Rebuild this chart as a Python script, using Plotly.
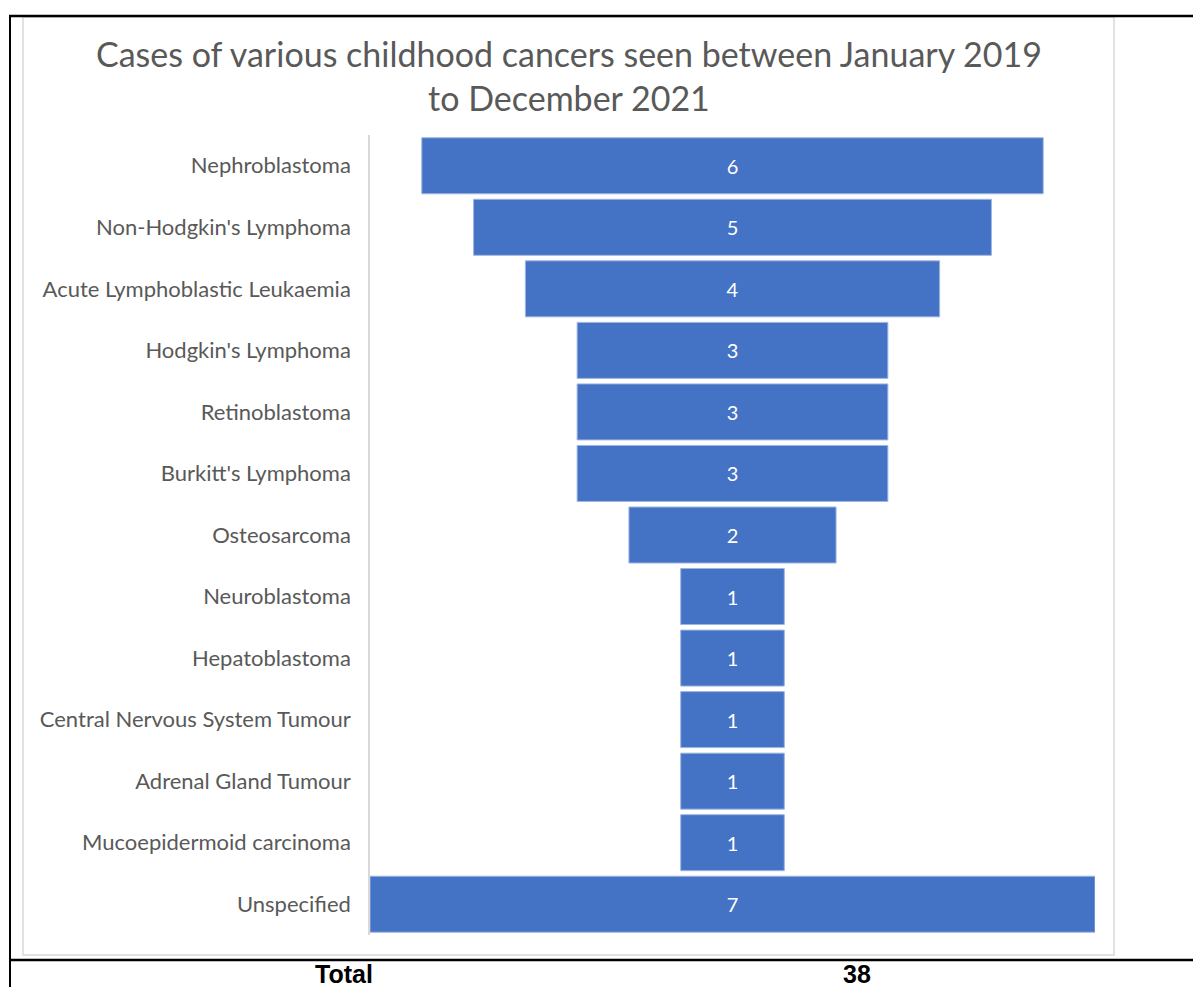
import plotly.graph_objects as go

categories = ["Nephroblastoma", "Non-Hodgkin's Lymphoma", "Acute Lymphoblastic Leukaemia",
              "Hodgkin's Lymphoma", "Retinoblastoma", "Burkitt's Lymphoma", "Osteosarcoma",
              "Neuroblastoma", "Hepatoblastoma", "Central Nervous System Tumour",
              "Adrenal Gland Tumour", "Mucoepidermoid carcinoma", "Unspecified"]
cases = [6, 5, 4, 3, 3, 3, 2, 1, 1, 1, 1, 1, 7]
total_label = "Total"
total_value = "38"

W, H = 1193, 987
L, R, T, B = 370, 1095, 135, 935

def px(x):
    return (x - L) / (R - L)

def py(y):
    return (B - y) / (B - T)

fig = go.Figure(go.Funnel(
    y=categories, x=cases,
    textinfo="value", textposition="inside",
    textfont=dict(color="white", size=20, family="Lato"),
    marker=dict(color="#4472C4", line=dict(color="#9fb5e2", width=1)),
    connector=dict(visible=False),
    hoverinfo="skip",
))

shapes = [
    # inner chart frame
    dict(type="rect", xref="paper", yref="paper", x0=px(23), x1=px(1114), y0=py(955), y1=py(17),
         line=dict(color="#d9d9d9", width=1.5), layer="below"),
    # outer table lines
    dict(type="line", xref="paper", yref="paper", x0=px(9), x1=px(1193), y0=py(16), y1=py(16),
         line=dict(color="black", width=2.5)),
    dict(type="line", xref="paper", yref="paper", x0=px(9), x1=px(1193), y0=py(960), y1=py(960),
         line=dict(color="black", width=2.5)),
    dict(type="line", xref="paper", yref="paper", x0=px(10), x1=px(10), y0=py(15), y1=py(987),
         line=dict(color="black", width=2)),
]

annotations = [
    dict(text="Cases of various childhood cancers seen between January 2019<br>to December 2021",
         xref="paper", yref="paper", x=px(568.5), y=py(75), xanchor="center", yanchor="middle",
         showarrow=False, font=dict(family="Lato", size=34, color="#595959")),
    dict(text="<b>" + total_label + "</b>", xref="paper", yref="paper", x=px(344), y=py(974),
         xanchor="center", yanchor="middle", showarrow=False,
         font=dict(family="Liberation Sans, Arial", size=25, color="black")),
    dict(text="<b>" + total_value + "</b>", xref="paper", yref="paper", x=px(857), y=py(974),
         xanchor="center", yanchor="middle", showarrow=False,
         font=dict(family="Liberation Sans, Arial", size=25, color="black")),
]

fig.update_layout(
    width=W, height=H,
    margin=dict(l=L, r=W - R, t=T, b=H - B, pad=0),
    paper_bgcolor="white", plot_bgcolor="white",
    funnelgap=0.09,
    showlegend=False,
    shapes=shapes,
    annotations=annotations,
    xaxis=dict(visible=False, range=[-3.5, 3.5]),
    yaxis=dict(showline=True, linecolor="#d9d9d9", linewidth=1.5, showgrid=False,
               ticks="", ticklabelstandoff=13,
               tickfont=dict(family="Lato", size=22, color="#595959")),
)

fig.write_html("out.html", config={"displayModeBar": False},
               post_script="document.body.style.margin='0';document.body.style.overflow='hidden';")
